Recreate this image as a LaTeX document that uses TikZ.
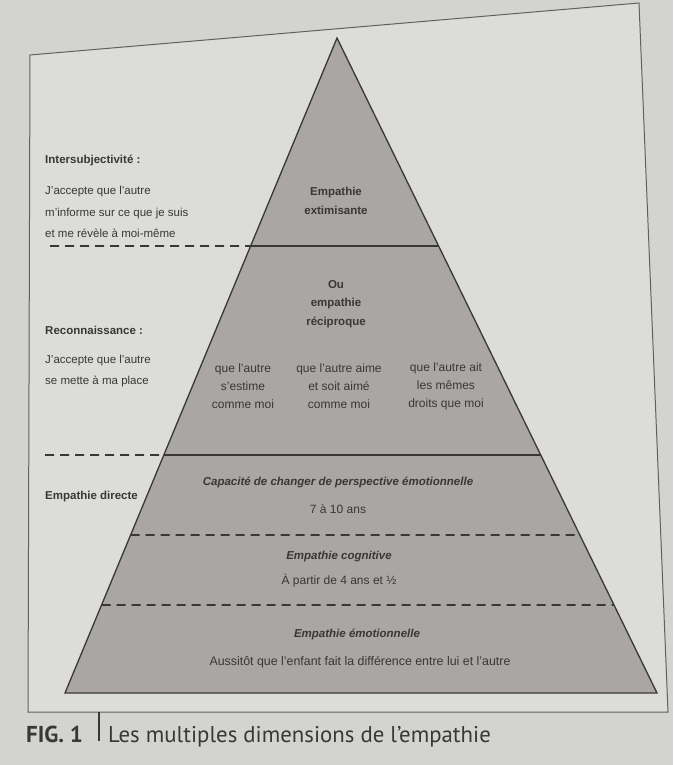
\documentclass[tikz,border=0pt]{standalone}
\usepackage{fontspec}
\setmainfont{Liberation Sans}
\newfontfamily\capfont{PT Sans}
\usetikzlibrary{calc}
\definecolor{paper}{HTML}{D3D3D0}
\definecolor{sheet}{HTML}{DCDCD9}
\definecolor{stone}{HTML}{A9A6A3}
\definecolor{ink}{HTML}{383838}

\begin{document}
\begin{tikzpicture}[x=1pt,y=-1pt]
    % `txt' is for the small texts, `hd' and `hdit' for the headings.
    % `lvl' and `dashlvl' are the lines between the levels.
    \tikzstyle{txt} = [text=ink,font=\fontsize{12}{18}\selectfont,align=center,inner sep=0pt]
    \tikzstyle{hd} = [txt,font=\fontsize{11.5}{18.5}\selectfont\bfseries]
    \tikzstyle{hdit} = [txt,font=\fontsize{11.5}{18}\selectfont\bfseries\itshape]
    \tikzstyle{side} = [txt,align=left,anchor=west,font=\fontsize{11.5}{21.5}\selectfont]
    \tikzstyle{sidehd} = [side,font=\fontsize{11.5}{18}\selectfont\bfseries]
    \tikzstyle{pyr} = [fill=stone,draw=ink,line width=1.3pt,line join=miter]
    \tikzstyle{lvl} = [draw=ink,line width=1.5pt]
    \tikzstyle{dashlvl} = [draw=ink,line width=1.7pt,dash pattern=on 9pt off 6pt]
    \tikzstyle{frame} = [draw=ink!80,line width=1pt,fill=sheet]
    %
    \useasboundingbox[fill=paper] (0,0) rectangle (673,765);
    \filldraw[frame] (30,55) -- (639,3) -- (668,712) -- (28,712) -- cycle;
    % Pyramid and level points.
    \coordinate (apex) at (337,38);
    \coordinate (bl) at (65,693);
    \coordinate (br) at (657,693);
    \filldraw[pyr] (apex) -- (bl) -- (br) -- cycle;
    \coordinate (l1) at ($(apex)!0.3176!(bl)$);
    \coordinate (r1) at ($(apex)!0.3176!(br)$);
    \coordinate (l2) at ($(apex)!0.6366!(bl)$);
    \coordinate (r2) at ($(apex)!0.6366!(br)$);
    \coordinate (l3) at ($(apex)!0.7588!(bl)$);
    \coordinate (r3) at ($(apex)!0.7588!(br)$);
    \coordinate (l4) at ($(apex)!0.8656!(bl)$);
    \coordinate (r4) at ($(apex)!0.8656!(br)$);
    \coordinate (d1) at (50,246);
    \coordinate (d2) at (45,455);
    \draw[lvl] (l1) -- (r1)  (l2) -- (r2);
    \draw[dashlvl] (d1) -- (l1)  (d2) -- (l2)  (l3) -- (r3)  (l4) -- (r4);
    % Texts in the pyramid.
    \node[hd] (extim) at (336,201) {Empathie\\extimisante};
    \node[hd] (recip) at (336,304) {Ou\\empathie\\réciproque};
    \node[txt] (estime) at (243,386) {que l'autre\\s'estime\\comme moi};
    \node[txt] (aime) at (339,386) {que l'autre aime\\et soit aimé\\comme moi};
    \node[txt] (droits) at (446,386) {que l'autre ait\\les mêmes\\droits que moi};
    \node[hdit] (capa) at (338,482) {Capacité de changer de perspective émotionnelle};
    \node[txt] (ans) at (338,509) {7 à 10 ans};
    \node[hdit] (cogn) at (339,557) {Empathie cognitive};
    \node[txt] (partir) at (339,581) {À partir de 4 ans et ½};
    \node[hdit] (emot) at (357,634) {Empathie émotionnelle};
    \node[txt,font=\fontsize{12.4}{18}\selectfont] (enfant) at (360,662) {Aussitôt que l'enfant fait la différence entre lui et l'autre};
    % Texts on the left.
    \node[sidehd] (inter) at (45,160) {Intersubjectivité :};
    \node[side] (intertxt) at (45,212) {J'accepte que l'autre\\m'informe sur ce que je suis\\et me révèle à moi-même};
    \node[sidehd] (recon) at (45,330) {Reconnaissance :};
    \node[side] (recontxt) at (45,371) {J'accepte que l'autre\\se mette à ma place};
    \node[sidehd] (directe) at (45,497) {Empathie directe};
    % Caption.
    \node[anchor=base west,inner sep=0pt,text=ink,font=\capfont\fontsize{23}{26}\selectfont\bfseries] (fig) at (26,742) {FIG. 1};
    \coordinate (bartop) at (99,712);
    \coordinate (barbot) at (99,741);
    \draw[ink,line width=1.2pt] (bartop) -- (barbot);
    \node[anchor=base west,inner sep=0pt,text=ink,font=\capfont\fontsize{22.8}{26}\selectfont] (caption) at (108,742) {Les multiples dimensions de l’empathie};
\end{tikzpicture}
\end{document}
